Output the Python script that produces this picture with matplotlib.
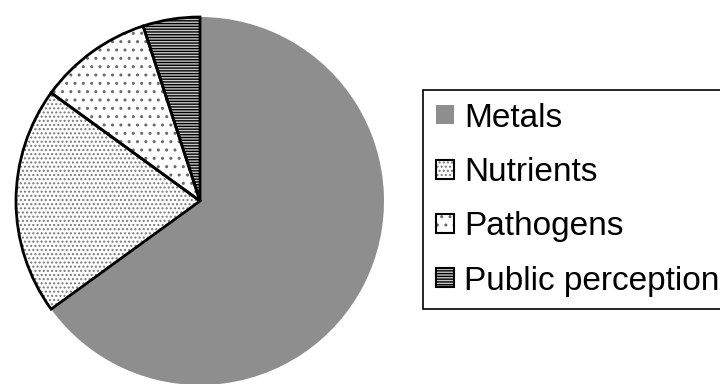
import matplotlib.pyplot as plt
from matplotlib.patches import Patch
from matplotlib.legend_handler import HandlerTuple

# Data
labels = ['Metals', 'Nutrients', 'Pathogens', 'Public perception']
values = [65, 20, 10, 5]

# Fill styles
faces = ['#8e8e8e', 'white', 'white', '#c8c8c8']
hatches = ['', '....', '..', '------']
hatch_cols = ['#8e8e8e', '#7a7a7a', '#6a6a6a', 'black']
outline = ['none', 'black', 'black', 'black']

plt.rcParams['font.family'] = ['Liberation Sans', 'DejaVu Sans']
plt.rcParams['hatch.linewidth'] = 1.0

fig = plt.figure(figsize=(7.2, 3.84), dpi=100)
W, H = 720, 384
cx, cy, r = 200, 201, 184
ax = fig.add_axes([(cx - r) / W, (H - cy - r) / H, 2 * r / W, 2 * r / H])

# filled wedges with hatches
fills, _ = ax.pie(values, startangle=90, counterclock=False, colors=faces,
                  wedgeprops=dict(linewidth=0))
for w, h, hc in zip(fills, hatches, hatch_cols):
    w.set_hatch(h)
    w.set_edgecolor(hc)

# black outlines on top
outs, _ = ax.pie(values, startangle=90, counterclock=False,
                 wedgeprops=dict(fill=False, linewidth=2))
for w, ec in zip(outs, outline):
    w.set_edgecolor(ec)

ax.set_xlim(-1.0, 1.0)
ax.set_ylim(-1.0, 1.0)
ax.set_aspect('equal')
ax.axis('off')

handles = []
for fc, h, hc, ec in zip(faces, hatches, hatch_cols, outline):
    handles.append((Patch(facecolor=fc, hatch=h, edgecolor=hc, linewidth=0),
                    Patch(fill=False, edgecolor=ec, linewidth=1.5)))

leg = fig.legend(handles, labels, loc='upper left',
                 bbox_to_anchor=(423 / W, 1 - 90 / H), borderaxespad=0,
                 fontsize=24, frameon=True, fancybox=False, framealpha=1,
                 edgecolor='black', borderpad=0.38, labelspacing=0.7,
                 handlelength=0.55, handleheight=0.5, handletextpad=0.3,
                 handler_map={tuple: HandlerTuple(ndivide=1)})
leg.get_frame().set_linewidth(1.2)

fig.savefig('out.png', dpi=100)
